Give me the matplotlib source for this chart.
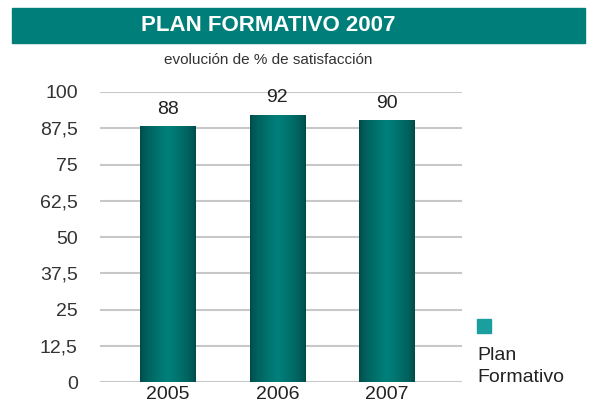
import numpy as np
import matplotlib.pyplot as plt
from matplotlib.patches import Rectangle

years = ['2005', '2006', '2007']
satisfaccion = [88, 92, 90]
y_ticks = [0, 12.5, 25, 37.5, 50, 62.5, 75, 87.5, 100]
y_tick_labels = ['0', '12,5', '25', '37,5', '50', '62,5', '75', '87,5', '100']

narrow = ['Liberation Sans Narrow', 'Liberation Sans', 'DejaVu Sans']
plt.rcParams['font.family'] = narrow

fig = plt.figure(figsize=(5.97, 4.12), dpi=100)
ax = fig.add_axes([0.1675, 0.0728, 0.6065, 0.7039])

# title banner
fig.patches.append(Rectangle((12 / 597, 1 - 43 / 412), 573 / 597, 35 / 412,
                             transform=fig.transFigure, color='#007f7a', zorder=0))
fig.text(268 / 597, 1 - 25.5 / 412, 'PLAN FORMATIVO 2007', ha='center', va='center',
         color='white', fontsize=16, fontweight='bold')
fig.text(268 / 597, 1 - 60 / 412, 'evolución de % de satisfacción', ha='center',
         va='center', color='#333333', fontsize=11)

x = np.arange(len(years))
bars = ax.bar(x, satisfaccion, width=0.51, color='none', zorder=3)

# horizontal shading: dark edges, light centre
t = np.linspace(0, 1, 200)
shade = 1 - np.abs(t - 0.5) * 2
c_dark = np.array([0x00, 0x48, 0x45]) / 255
c_light = np.array([0x00, 0x80, 0x7b]) / 255
grad = c_dark[None, :] + (c_light - c_dark)[None, :] * (shade ** 0.6)[:, None]
grad = grad[None, :, :]
for b in bars:
    ax.imshow(grad, extent=(b.get_x(), b.get_x() + b.get_width(), 0, b.get_height()),
              aspect='auto', zorder=3, interpolation='bilinear')

for xi, v in zip(x, satisfaccion):
    ax.text(xi, v + 3.0, str(v), ha='center', va='bottom', fontsize=14, color='#222222')

ax.set_xlim(-0.624, 2.69)
ax.set_ylim(0, 100)
ax.set_yticks(y_ticks)
ax.set_yticklabels(y_tick_labels, fontsize=14, color='#333333')
ax.set_xticks(x)
ax.set_xticklabels(years, fontsize=14, color='#222222')
ax.tick_params(axis='both', length=0)
ax.tick_params(axis='y', pad=16)
ax.tick_params(axis='x', pad=3)
ax.grid(axis='y', color='#c8c8c8', linewidth=1.5, zorder=0)
for s in ax.spines.values():
    s.set_visible(False)

# legend
fig.patches.append(Rectangle((477 / 597, 1 - 333 / 412), 14 / 597, 14 / 412,
                             transform=fig.transFigure, color='#1a9e9e'))
fig.text(477 / 597, 1 - 355 / 412, 'Plan', ha='left', va='center', fontsize=14, color='#222222')
fig.text(477 / 597, 1 - 378 / 412, 'Formativo', ha='left', va='center', fontsize=14, color='#222222')

fig.savefig('out.png', dpi=100)
